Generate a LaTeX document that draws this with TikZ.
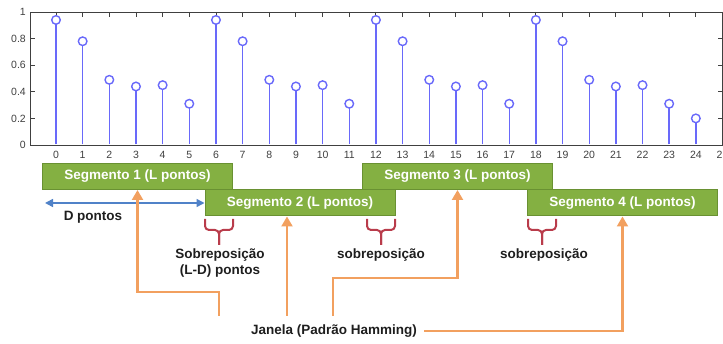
\documentclass[tikz,border=0pt]{standalone}
\usepackage{fontspec}
\setmainfont{Liberation Sans}
\usetikzlibrary{arrows.meta,calc}
\definecolor{segfill}{RGB}{132,176,66}
\definecolor{segdraw}{RGB}{105,145,50}
\definecolor{stemblue}{RGB}{105,105,250}
\definecolor{axisgray}{RGB}{64,64,64}
\definecolor{arrorange}{RGB}{242,160,95}
\definecolor{bracered}{RGB}{185,60,75}
\definecolor{dblue}{RGB}{80,130,200}
\definecolor{txt}{RGB}{30,30,30}
\begin{document}
\begin{tikzpicture}[x=1pt,y=-1pt,
 seg/.style={draw=segdraw, fill=segfill, line width=1pt, minimum width=190pt, minimum height=26pt, inner sep=0pt, text=white, font=\fontsize{13.5}{16}\selectfont\bfseries},
 lbl/.style={text=txt, font=\fontsize{13.5}{16}\selectfont\bfseries, inner sep=1pt, align=center},
 ticklbl/.style={text=axisgray, font=\fontsize{10.5}{12}\selectfont, inner sep=0pt},
 oarr/.style={draw=arrorange, line width=2.2pt, -{Triangle[width=11pt,length=10pt]}},
 darr/.style={draw=dblue, line width=1.6pt, {Triangle[width=8pt,length=8pt]}-{Triangle[width=8pt,length=8pt]}},
 brc/.style={draw=bracered, line width=2pt, rounded corners=4pt},
 stem/.style={draw=stemblue, line width=1.4pt},
 mk/.style={draw=stemblue, line width=1.4pt, fill=white},
 ax/.style={draw=axisgray, line width=0.9pt}]
\useasboundingbox (0,0) rectangle (723,344);
% ---- plot ----
\draw[ax] (30,12) rectangle (722.5,145);
\foreach \i in {0,...,25}{
  \draw[ax] ({56+26.66*\i},12) -- ({56+26.66*\i},17);
}
\foreach \i in {0,...,24}{
  \node[ticklbl] (xt\i) at ({56+26.66*\i},155) {\i};
}
\begin{scope}
  \clip (0,0) rectangle (723,344);
  \node[ticklbl] (xt25) at (722.5,155) {25};
\end{scope}
\foreach \v/\t in {0/0,0.2/0.2,0.4/0.4,0.6/0.6,0.8/0.8,1/1}{
  \draw[ax] (30,{145-133*\v}) -- (35,{145-133*\v});
  \draw[ax] (722.5,{145-133*\v}) -- (717.5,{145-133*\v});
  \node[ticklbl, anchor=east] (yt\t) at (26,{145-133*\v}) {\t};
}
\foreach \i/\v in {0/0.94,1/0.78,2/0.49,3/0.44,4/0.45,5/0.31,
                   6/0.94,7/0.78,8/0.49,9/0.44,10/0.45,11/0.31,
                   12/0.94,13/0.78,14/0.49,15/0.44,16/0.45,17/0.31,
                   18/0.94,19/0.78,20/0.49,21/0.44,22/0.45,23/0.31,24/0.20}{
  \draw[stem] ({56+26.66*\i},144.5) -- ({56+26.66*\i},{145-133*\v});
  \draw[mk] ({56+26.66*\i},{145-133*\v}) circle[radius=4.3pt];
}
% ---- segments ----
\node[seg] (s1) at (137.5,176.5) {Segmento 1 (L pontos)};
\node[seg] (s2) at (300,203) {Segmento 2 (L pontos)};
\node[seg] (s3) at (457.5,176.5) {Segmento 3 (L pontos)};
\node[seg] (s4) at (622.5,203) {Segmento 4 (L pontos)};
% ---- D pontos ----
\coordinate (dl) at (45,203);
\draw[darr] (dl) -- (s2.west);
\node[lbl] (dp) at (93,217) {D pontos};
% ---- braces ----
\draw[brc] (205,219) -- (205,230) -- (219,230) -- (219,245);
\draw[brc] (233,219) -- (233,230) -- (219,230) -- (219,245);
\node[lbl] (ov1) at (220,263) {Sobreposição\\(L-D) pontos};
\draw[brc] (367,219) -- (367,230) -- (381,230) -- (381,245);
\draw[brc] (395,219) -- (395,230) -- (381,230) -- (381,245);
\node[lbl] (ov2) at (381,255) {sobreposição};
\draw[brc] (528,219) -- (528,230) -- (542,230) -- (542,245);
\draw[brc] (556,219) -- (556,230) -- (542,230) -- (542,245);
\node[lbl] (ov3) at (544,255) {sobreposição};
% ---- window ----
\node[lbl] (jan) at (334,331) {Janela (Padrão Hamming)};
\coordinate (j1) at (219,316);
\coordinate (j2) at (287,316);
\coordinate (j3) at (333,316);
\draw[oarr] (j1) -- (219,292) -| (s1.south);
\draw[oarr] (j2) -- (j2 |- s2.south);
\draw[oarr] (j3) -- (333,278) -| (s3.south);
\draw[oarr] ([xshift=6pt]jan.east) -| (s4.south);
\end{tikzpicture}
\end{document}
